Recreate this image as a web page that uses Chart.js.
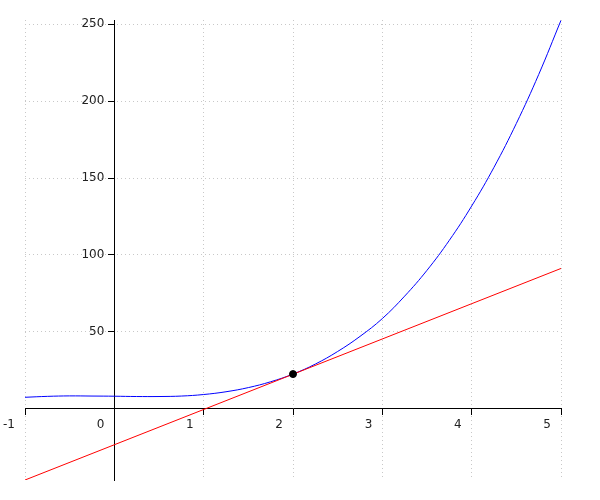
<!DOCTYPE html>
<html>
<head>
<meta charset="utf-8">
<title>Tangent</title>
<script src="https://cdn.jsdelivr.net/npm/chart.js"></script>
<style>
	body { margin: 0; background: #fff; }
	#wrap { width: 600px; height: 500px; }
</style>
</head>
<body>
<div id="wrap"><canvas id="plot" width="600" height="500"></canvas></div>
<script>
	// curve, step 0.25
	const curveX = [-1, -0.75, -0.5, -0.25, 0, 0.25, 0.5, 0.75, 1, 1.25, 1.5, 1.75, 2,
		2.25, 2.5, 2.75, 3, 3.25, 3.5, 3.75, 4, 4.25, 4.5, 4.75, 5];
	const curveY = [7.4, 8.0, 8.3, 8.2, 8.1, 7.9, 7.9, 8.2, 9.2, 11.0, 13.7, 17.5, 22.5,
		29.0, 37.2, 47.0, 58.6, 73.2, 90.0, 109.5, 131.8, 157.0, 185.5, 217.3, 252.6];
	// tangent line at x = 2
	const tangentX = [-1, 5];
	const tangentY = [-46.4, 91.2];
	const pointX = [2];
	const pointY = [22.5];
	const xTicks = [-1, 0, 1, 2, 3, 4, 5];
	const yTicks = [50, 100, 150, 200, 250];

	const toXY = (xs, ys) => xs.map((x, i) => ({x: x, y: ys[i]}));

	// y axis sits at x = 0, so its labels get drawn on the axis line; push them left
	const shiftYLabels = {
		id: 'shiftYLabels',
		afterLayout(chart) {
			const s = chart.scales.y;
			if (s._shifted) return;
			const orig = s.drawLabels;
			s.drawLabels = function (area) {
				this.ctx.save();
				this.ctx.translate(-10, 0);
				orig.call(this, area);
				this.ctx.restore();
			};
			s._shifted = true;
		}
	};

	const ctx = document.getElementById('plot').getContext('2d');
	const chart = new Chart(ctx, {
		type: 'scatter',
		data: {
			datasets: [{
				data: toXY(pointX, pointY),
				pointRadius: 3.5,
				backgroundColor: '#000',
				borderColor: '#000',
				showLine: false
			}, {
				data: toXY(tangentX, tangentY),
				borderColor: '#ff0000',
				borderWidth: 1,
				pointRadius: 0,
				showLine: true
			}, {
				data: toXY(curveX, curveY),
				borderColor: '#0000ff',
				borderWidth: 1,
				pointRadius: 0,
				showLine: true,
				tension: 0.4
			}]
		},
		options: {
			responsive: false,
			animation: false,
			devicePixelRatio: 1,
			layout: { padding: { left: 25, right: 39, top: 20, bottom: 20 } },
			plugins: { legend: { display: false }, tooltip: { enabled: false } },
			scales: {
				x: {
					type: 'linear',
					min: -1,
					max: 5,
					position: { y: 0 },
					afterBuildTicks: (s) => { s.ticks = xTicks.map(v => ({value: v})); },
					grid: { color: '#c8c8c8', tickColor: '#000', tickLength: 6, tickWidth: 1 },
					border: { color: '#000', width: 1, dash: [1, 3] },
					ticks: {
						align: 'end',
						labelOffset: -10,
						padding: 3,
						color: '#222',
						font: { family: 'DejaVu Sans', size: 12 }
					}
				},
				y: {
					type: 'linear',
					min: -46.4,
					max: 252.8,
					position: { x: 0 },
					afterBuildTicks: (s) => { s.ticks = yTicks.map(v => ({value: v})); },
					grid: { color: '#c8c8c8', tickColor: '#000', tickLength: 6, tickWidth: 1 },
					border: { color: '#000', width: 1, dash: [1, 3] },
					ticks: {
						padding: 4,
						color: '#222',
						font: { family: 'DejaVu Sans', size: 12 }
					}
				}
			}
		},
		plugins: [shiftYLabels]
	});
</script>
</body>
</html>
